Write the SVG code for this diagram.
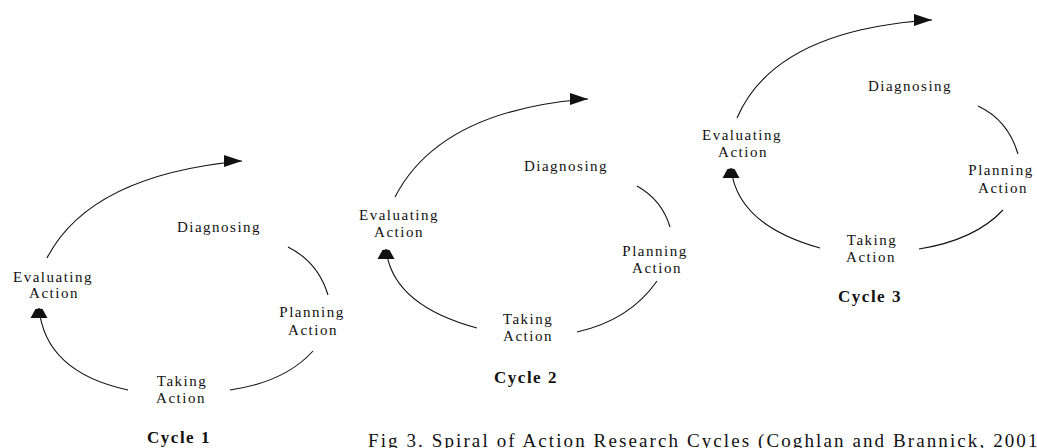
<svg xmlns="http://www.w3.org/2000/svg" width="1037" height="448" viewBox="0 0 1037 448">
  <style>
    .lbl { font-family: "Liberation Serif", "Times New Roman", serif; font-size: 15px; letter-spacing: 1.5px; fill: #111; text-anchor: middle; }
    .cyc { font-family: "Liberation Serif", "Times New Roman", serif; font-size: 17px; font-weight: bold; letter-spacing: 1.5px; fill: #111; text-anchor: middle; }
    .cap { font-family: "Liberation Serif", "Times New Roman", serif; font-size: 19px; letter-spacing: 2.1px; fill: #111; }
    .arc { fill: none; stroke: #111; stroke-width: 1.1; }
  </style>
  <defs>
    <marker id="arrowR" markerUnits="userSpaceOnUse" viewBox="0 0 18 12" markerWidth="18" markerHeight="12" refX="18" refY="6" orient="0">
      <path d="M0,0 L18,6 L0,12 z" fill="#111"/>
    </marker>
    <marker id="arrowU" markerUnits="userSpaceOnUse" viewBox="0 -9 10 18" markerWidth="10" markerHeight="18" refX="10" refY="0" orient="270">
      <path d="M0,-8.5 L9,-3.5 Q10,0 9,3.5 L0,8.5 z" fill="#111"/>
    </marker>
  </defs>
  <rect width="1037" height="448" fill="#fff"/>

  <g id="connectors">
    <!-- Cycle 1 -->
    <path class="arc" d="M47,258 Q90,175 242,161" marker-end="url(#arrowR)"/>
    <path class="arc" d="M288,247 Q318,262 328,295"/>
    <path class="arc" d="M313,351 Q285,382 230,390"/>
    <path class="arc" d="M128,390 Q45,372 39,308" marker-end="url(#arrowU)"/>
    <!-- Cycle 2 -->
    <path class="arc" d="M395,197 Q440,110 588,99" marker-end="url(#arrowR)"/>
    <path class="arc" d="M637,186 Q662,200 670,227"/>
    <path class="arc" d="M657,281 Q630,320 577,332"/>
    <path class="arc" d="M477,328 Q392,305 386,249" marker-end="url(#arrowU)"/>
    <!-- Cycle 3 -->
    <path class="arc" d="M737,118 Q775,30 932,20" marker-end="url(#arrowR)"/>
    <path class="arc" d="M978,106 Q1008,120 1018,154"/>
    <path class="arc" d="M1003,210 Q975,240 919,249"/>
    <path class="arc" d="M820,248 Q737,225 731,168" marker-end="url(#arrowU)"/>
  </g>

  <g id="c1-diagnosing"><text class="lbl" x="219" y="232">Diagnosing</text></g>
  <g id="c1-planning"><text class="lbl" x="312" y="317">Planning</text><text class="lbl" x="313" y="335">Action</text></g>
  <g id="c1-taking"><text class="lbl" x="182" y="386">Taking</text><text class="lbl" x="181" y="403">Action</text></g>
  <g id="c1-evaluating"><text class="lbl" x="53" y="282">Evaluating</text><text class="lbl" x="54" y="298">Action</text></g>
  <g id="c1-label"><text class="cyc" x="179" y="443">Cycle 1</text></g>

  <g id="c2-diagnosing"><text class="lbl" x="566" y="171">Diagnosing</text></g>
  <g id="c2-planning"><text class="lbl" x="655" y="256">Planning</text><text class="lbl" x="657" y="273">Action</text></g>
  <g id="c2-taking"><text class="lbl" x="528" y="324">Taking</text><text class="lbl" x="528" y="341">Action</text></g>
  <g id="c2-evaluating"><text class="lbl" x="399" y="220">Evaluating</text><text class="lbl" x="399" y="237">Action</text></g>
  <g id="c2-label"><text class="cyc" x="526" y="383">Cycle 2</text></g>

  <g id="c3-diagnosing"><text class="lbl" x="910" y="91">Diagnosing</text></g>
  <g id="c3-planning"><text class="lbl" x="1001" y="175">Planning</text><text class="lbl" x="1003" y="193">Action</text></g>
  <g id="c3-taking"><text class="lbl" x="872" y="245">Taking</text><text class="lbl" x="871" y="262">Action</text></g>
  <g id="c3-evaluating"><text class="lbl" x="742" y="140">Evaluating</text><text class="lbl" x="743" y="157">Action</text></g>
  <g id="c3-label"><text class="cyc" x="870" y="302">Cycle 3</text></g>

  <g id="caption"><text class="cap" x="368" y="447">Fig 3. Spiral of Action Research Cycles (Coghlan and Brannick, 2001</text></g>
</svg>
